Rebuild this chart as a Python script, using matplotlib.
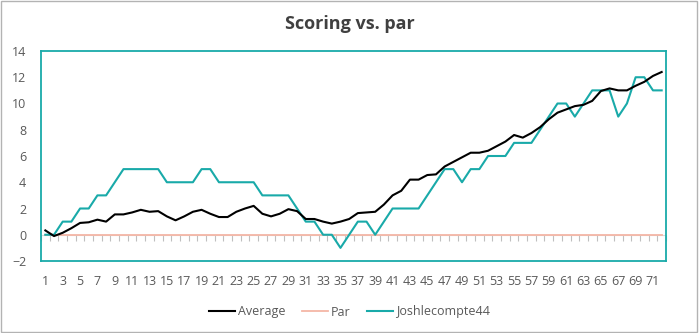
import numpy as np
import matplotlib.pyplot as plt
from matplotlib.patches import Rectangle

holes = list(range(1, 73))
average = [0.33, -0.1, 0.15, 0.5, 0.9, 0.95, 1.15, 1.0, 1.55, 1.55,
           1.7, 1.9, 1.75, 1.8, 1.4, 1.1, 1.4, 1.75, 1.9, 1.6,
           1.35, 1.35, 1.75, 2.0, 2.2, 1.6, 1.4, 1.6, 1.95, 1.8,
           1.2, 1.2, 1.0, 0.85, 1.0, 1.2, 1.65, 1.7, 1.75, 2.3,
           3.0, 3.35, 4.2, 4.2, 4.55, 4.6, 5.2, 5.55, 5.9, 6.25,
           6.25, 6.4, 6.75, 7.1, 7.6, 7.4, 7.75, 8.2, 8.8, 9.3,
           9.55, 9.8, 9.9, 10.2, 10.95, 11.15, 11.0, 11.0, 11.35, 11.65,
           12.1, 12.4]
par = [0] * 72
josh = [0, 0, 1, 1, 2, 2, 3, 3, 4, 5,
        5, 5, 5, 5, 4, 4, 4, 4, 5, 5,
        4, 4, 4, 4, 4, 3, 3, 3, 3, 2,
        1, 1, 0, 0, -1, 0, 1, 1, 0, 1,
        2, 2, 2, 2, 3, 4, 5, 5, 4, 5,
        5, 6, 6, 6, 7, 7, 7, 8, 9, 10,
        10, 9, 10, 11, 11, 11, 9, 10, 12, 12,
        11, 11]
y_ticks = list(range(-2, 15, 2))

TEAL = "#19aaa9"
TEXT = "#595959"

plt.rcParams["font.family"] = ["Open Sans", "DejaVu Sans"]

fig = plt.figure(figsize=(6.99, 3.33), dpi=100, facecolor="white")
ax = fig.add_axes([41 / 699, 1 - 261 / 333, 625 / 699, 210 / 333])

# horizontal axis line at zero with small category ticks
ax.axhline(0, color="#d9d9d9", lw=0.8, zorder=1)
sec = ax.secondary_xaxis(0, transform=ax.transData)
sec.set_xticks(np.arange(0.5, len(holes) + 1, 1.0))
sec.tick_params(axis="x", length=4, width=0.8, color="#bfbfbf",
                labelbottom=False, direction="out")
sec.spines["bottom"].set_visible(False)

ax.plot(holes, par, color="#f4b6a6", lw=1.3, label="Par", zorder=2)
ax.plot(holes, josh, color=TEAL, lw=1.5, label="Joshlecompte44", zorder=3)
ax.plot(holes, average, color="black", lw=1.5, label="Average", zorder=4)

ax.set_xlim(0.5, len(holes) + 0.5)
ax.set_ylim(-2, 14)
ax.set_xticks(holes[::2])
ax.set_yticks(y_ticks)
ax.tick_params(axis="x", length=0, pad=10, labelsize=9, labelcolor=TEXT)
ax.tick_params(axis="y", length=0, pad=10.5, labelsize=9, labelcolor=TEXT)
for spine in ax.spines.values():
    spine.set_edgecolor(TEAL)
    spine.set_linewidth(1.3)

fig.text(0.5, 1 - 29 / 333, "Scoring vs. par", ha="center", va="baseline",
         fontsize=13, fontweight="bold", color="#404040")

handles, labels = ax.get_legend_handles_labels()
order = [labels.index(n) for n in ["Average", "Par", "Joshlecompte44"]]
fig.legend([handles[i] for i in order], [labels[i] for i in order],
           loc="center", bbox_to_anchor=(0.5, 1 - 312 / 333), ncol=3,
           frameon=False, fontsize=9, labelcolor=TEXT, handlelength=2.1,
           handletextpad=0.25, columnspacing=1.3)

# outer chart border
fig.patches.append(Rectangle((0.001, 0.002), 0.996, 0.996, transform=fig.transFigure,
                             fill=False, edgecolor="#b3b3b3", lw=1.0))

fig.savefig("out.png", dpi=100, facecolor="white")
